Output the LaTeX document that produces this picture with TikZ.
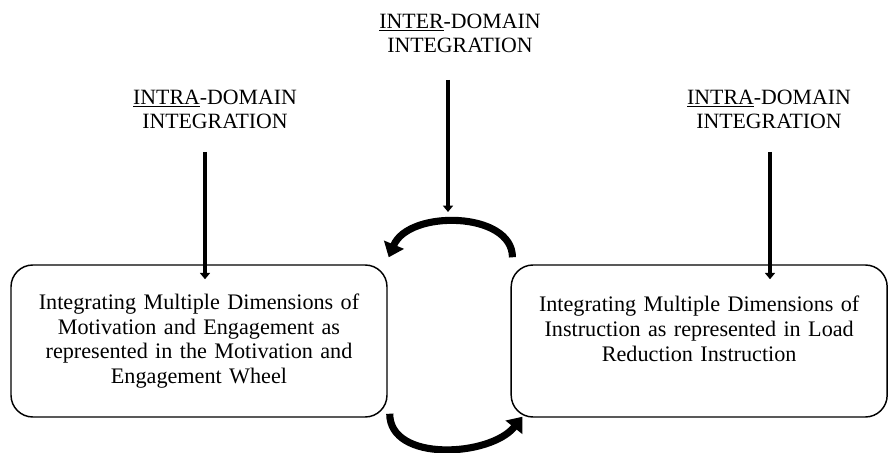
\documentclass[tikz,border=0pt]{standalone}
\usepackage{fontspec}
\setmainfont{Liberation Serif}
\usetikzlibrary{positioning, arrows.meta, calc}

\begin{document}
\begin{tikzpicture}[x=0.55pt, y=-0.55pt]
		\tikzstyle{dimbox}=[draw=black, thick, rounded corners=12pt, minimum width=206.8pt, minimum height=83.6pt, text width=195pt, align=center, font=\fontsize{12.2}{13.6}\selectfont]
		\tikzstyle{domlabel}=[align=center, font=\fontsize{12}{13.2}\selectfont]
		\tikzstyle{downarrow}=[line width=2.2pt, -{Triangle[width=5.5pt, length=3.5pt]}]
		\tikzstyle{cyclearrow}=[line width=3.9pt, -{Triangle[width=11.5pt, length=7.5pt]}]
		\useasboundingbox (0,0) rectangle (888,453);
		
		\node [dimbox](mot) at (199,341) {Integrating Multiple Dimensions of\\ Motivation and Engagement as\\ represented in the Motivation and\\ Engagement Wheel};
		\node [dimbox, right=67.5pt of mot](ins) {Integrating Multiple Dimensions of\\ Instruction as represented in Load\\ Reduction Instruction\\ \mbox{}};
		
		\node [domlabel](intra1) at (215,109) {\underline{INTRA}-DOMAIN\\ INTEGRATION};
		\node [domlabel](inter) at (460,33) {\underline{INTER}-DOMAIN\\ INTEGRATION};
		\node [domlabel](intra2) at (769,109) {\underline{INTRA}-DOMAIN\\ INTEGRATION};
		
		\coordinate (a1) at (205,152);
		\coordinate (a2) at (448,80);
		\coordinate (a2e) at (448,212);
		\coordinate (a3) at (770,152);
		\draw [downarrow] (a1)--([yshift=-8.25pt]a1 |- mot.north);
		\draw [downarrow] (a2)--(a2e);
		\draw [downarrow] (a3)--([yshift=-8.25pt]a3 |- ins.north);
		
		\coordinate (ts) at ($(ins.north west)+(2,-7)$);
		\coordinate (te) at ($(mot.north east)+(1,-7)$);
		\coordinate (bs) at ($(mot.south east)+(2,-4)$);
		\coordinate (be) at ($(ins.south west)+(12,-1)$);
		\draw [cyclearrow] (ts) .. controls +(0,-46) and +(20,-48) .. (te);
		\draw [cyclearrow] (bs) .. controls +(0,49) and +(-32,40) .. (be);
\end{tikzpicture}
\end{document}
